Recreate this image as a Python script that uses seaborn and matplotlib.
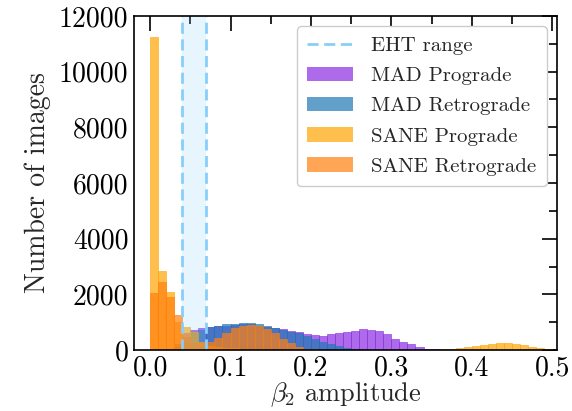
import numpy as np
import pandas as pd
import matplotlib
matplotlib.use("Agg")
import matplotlib.pyplot as plt
import seaborn as sns
from matplotlib.lines import Line2D
from matplotlib.patches import Patch

# Histogram bins: 0.01 wide from 0 to 0.5
bin_edges = [round(0.01 * i, 2) for i in range(51)]
bin_centers = [round(0.01 * i + 0.005, 3) for i in range(50)]

# Counts of images per beta_2 bin for each model
mad_prograde = [0, 0, 20, 200, 600, 720, 780, 830, 860, 880,
                900, 920, 920, 880, 840, 800, 750, 700, 640, 590,
                540, 510, 560, 600, 630, 700, 745, 730, 690, 570,
                400, 300, 200, 120, 50, 20, 5, 0, 0, 0,
                0, 0, 0, 0, 0, 0, 0, 0, 0, 0]
mad_retrograde = [0, 0, 30, 100, 300, 650, 720, 830, 880, 920,
                  940, 970, 970, 920, 870, 790, 720, 660, 600, 520,
                  390, 300, 210, 130, 80, 40, 20, 10, 0, 0,
                  0, 0, 0, 0, 0, 0, 0, 0, 0, 0,
                  0, 0, 0, 0, 0, 0, 0, 0, 0, 0]
sane_prograde = [11250, 2850, 2100, 1000, 840, 650, 300, 150, 100, 80,
                 60, 50, 40, 30, 20, 15, 10, 10, 5, 5,
                 5, 5, 5, 5, 5, 5, 5, 5, 5, 5,
                 5, 5, 5, 10, 10, 15, 20, 50, 80, 120,
                 160, 190, 220, 240, 240, 220, 180, 120, 70, 30]
sane_retrograde = [2050, 2450, 1900, 1260, 450, 250, 280, 300, 420, 600,
                   780, 850, 900, 860, 760, 600, 400, 250, 120, 50,
                   20, 5, 0, 0, 0, 0, 0, 0, 0, 0,
                   0, 0, 0, 0, 0, 0, 0, 0, 0, 0,
                   0, 0, 0, 0, 0, 0, 0, 0, 0, 0]

series_names = ["MAD Prograde", "MAD Retrograde", "SANE Prograde", "SANE Retrograde"]
series_counts = [mad_prograde, mad_retrograde, sane_prograde, sane_retrograde]
series_colors = ["blueviolet", "tab:blue", "orange", "tab:orange"]

eht_range = (0.04, 0.07)

x_ticks = [0.0, 0.1, 0.2, 0.3, 0.4, 0.5]
y_ticks = [0, 2000, 4000, 6000, 8000, 10000, 12000]

sns.set_style("white")
plt.rcParams["font.family"] = ["cmr10", "DejaVu Serif"]
plt.rcParams["mathtext.fontset"] = "cm"
plt.rcParams["axes.formatter.use_mathtext"] = True

fig = plt.figure(figsize=(5.72, 4.11), dpi=100)
ax = fig.add_axes([0.2343, 0.1484, 0.9738 - 0.2343, 0.9611 - 0.1484])

for name, counts, color in zip(series_names, series_counts, series_colors):
    df = pd.DataFrame({"beta2": bin_centers, "count": counts})
    sns.histplot(data=df, x="beta2", weights="count", bins=bin_edges,
                 color=color, alpha=0.7, edgecolor=color, linewidth=0.4,
                 ax=ax)

# Shaded EHT range with dashed boundaries
eht_color = "lightskyblue"
ax.axvspan(*eht_range, color=eht_color, alpha=0.2, lw=0)
for xv in eht_range:
    ax.axvline(xv, color=eht_color, ls=(0, (4, 2)), lw=2)

ax.set_xlim(-0.02, 0.506)
ax.set_ylim(0, 12000)
ax.set_xticks(x_ticks)
ax.set_xticklabels([f"{v:.1f}" for v in x_ticks])
ax.set_yticks(y_ticks)
ax.set_yticklabels([str(v) for v in y_ticks])
ax.set_xticks(np.arange(0.05, 0.5, 0.1), minor=True)
ax.set_yticks(np.arange(1000, 12000, 2000), minor=True)

ax.tick_params(which="both", direction="in", top=True, right=True,
               labelsize=20, width=1.2, colors="black", pad=4)
ax.tick_params(which="major", length=11)
ax.tick_params(which="minor", length=5.5)
for sp in ax.spines.values():
    sp.set_color("black")
    sp.set_linewidth(1.2)

ax.set_xlabel(r"$\beta_2$ amplitude", fontsize=19, labelpad=-1)
ax.set_ylabel("Number of images", fontsize=20, labelpad=6)

handles = [Line2D([0], [0], color=eht_color, ls=(0, (4, 2)), lw=2)]
handles += [Patch(facecolor=c, alpha=0.7, edgecolor="none") for c in series_colors]
labels = ["EHT range"] + series_names
leg = ax.legend(handles, labels, loc="upper right", fontsize=15,
                frameon=True, fancybox=True, framealpha=1,
                edgecolor="#cccccc", borderpad=0.5, labelspacing=0.55,
                handlelength=2.2, handletextpad=0.85)

fig.savefig("out.png", dpi=100)
